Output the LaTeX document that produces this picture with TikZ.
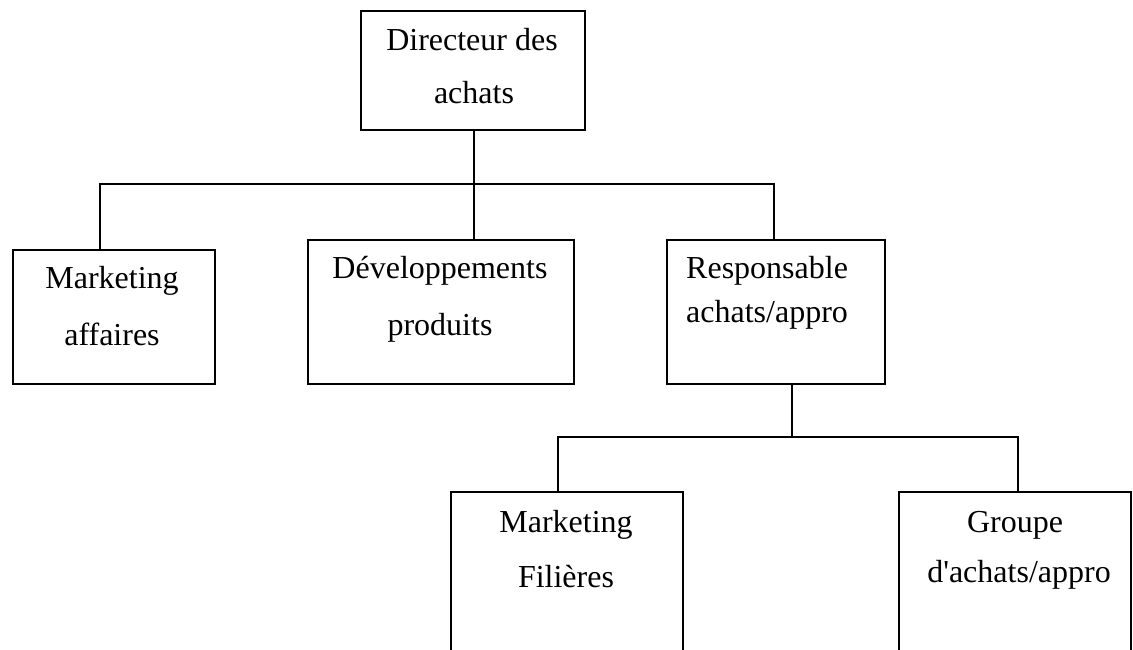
\documentclass[tikz,border=0pt]{standalone}
\usepackage{fontspec}
\setmainfont{Liberation Serif}[Ligatures=TeXOff]
\begin{document}
\begin{tikzpicture}[x=1pt,y=-1pt,
  box/.style={draw=black,line width=1.8pt,inner sep=0pt,anchor=north west},
  txt/.style={font=\fontsize{32}{38}\selectfont,inner sep=0pt,anchor=base,text=black},
  txtl/.style={txt,anchor=base west},
  link/.style={draw=black,line width=1.8pt}]
\useasboundingbox (0,0) rectangle (1133,650);
\clip (0,0) rectangle (1133,650);

% boxes
\node[box,minimum width=224pt,minimum height=119pt] (dir)  at (360,10)  {};
\node[box,minimum width=202pt,minimum height=134pt] (mka)  at (12,249)  {};
\node[box,minimum width=266pt,minimum height=144pt] (dev)  at (307,239) {};
\node[box,minimum width=218pt,minimum height=144pt] (resp) at (666,239) {};
\node[box,minimum width=232pt,minimum height=190pt] (mkf)  at (450,491) {};
\node[box,minimum width=232pt,minimum height=190pt] (grp)  at (898,491) {};

% labels
\node[txt]  (dir1)  at (472,51)  {Directeur des};
\node[txt]  (dir2)  at (474,104) {achats};
\node[txt]  (mka1)  at (112,288) {Marketing};
\node[txt]  (mka2)  at (112,345) {affaires};
\node[txt]  (dev1)  at (440,278) {Développements};
\node[txt]  (dev2)  at (440,335) {produits};
\node[txtl] (resp1) at (686,278) {Responsable};
\node[txtl] (resp2) at (686,322) {achats/appro};
\node[txt]  (mkf1)  at (566,532) {Marketing};
\node[txt]  (mkf2)  at (566,587) {Filières};
\node[txt]  (grp1)  at (1015,532) {Groupe};
\node[txt]  (grp2)  at (1019,582) {d'achats/appro};

% first level connectors
\coordinate (busL) at (100,184);
\coordinate (busM) at (474,184);
\coordinate (busR) at (774,184);
\draw[link] (dir.south -| busM) -- (busM);
\draw[link] (busL |- mka.north) |- (busR) -- (busR |- resp.north);
\draw[link] (busM) -- (busM |- dev.north);

% second level connectors
\coordinate (sbL) at (558,437);
\coordinate (sbM) at (792,437);
\coordinate (sbR) at (1018,437);
\draw[link] (resp.south -| sbM) -- (sbM);
\draw[link] (sbL |- mkf.north) |- (sbR) -- (sbR |- grp.north);
\end{tikzpicture}
\end{document}
